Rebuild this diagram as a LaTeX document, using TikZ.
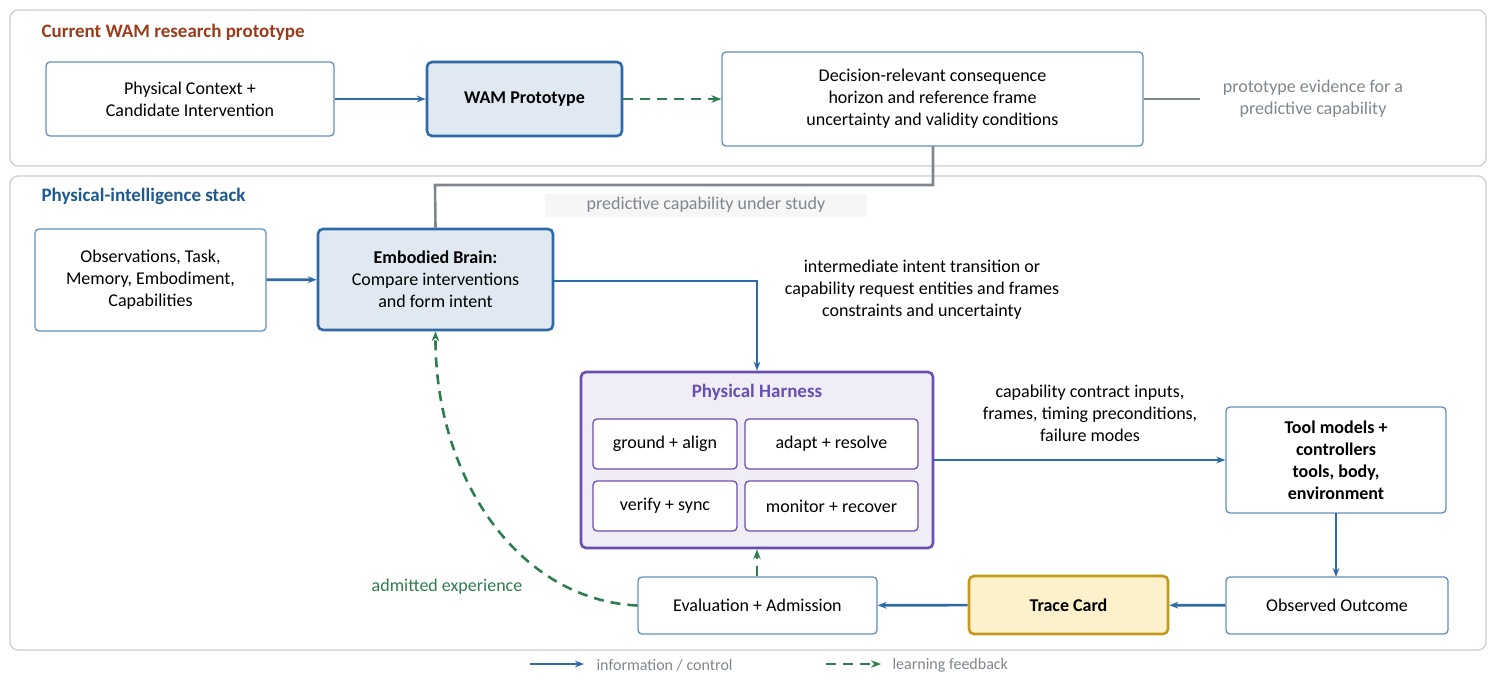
\documentclass[tikz,border=0pt]{standalone}
\usepackage{fontspec}
\setmainfont{Carlito}
\usetikzlibrary{arrows.meta}
\definecolor{cblue}{HTML}{2E6AA8}
\definecolor{cgreen}{HTML}{2E7D4F}
\definecolor{cbrown}{HTML}{9A3B1A}
\definecolor{ctitle}{HTML}{1F5A8E}
\definecolor{cpurp}{HTML}{6A4FB0}
\definecolor{cgray}{HTML}{7F868E}
\definecolor{cpanel}{HTML}{C9CED4}
\definecolor{cgold}{HTML}{C49A1A}
\definecolor{ccream}{HTML}{FDF1CC}
\begin{document}
\begin{tikzpicture}[x=1pt,y=-1pt,
 txt/.style={font=\fontsize{18}{22}\selectfont,align=center},
 box/.style={draw=cblue!75,line width=1.3pt,rounded corners=4pt,fill=white},
 hbox/.style={draw=cblue,line width=2.6pt,rounded corners=5pt,fill=cblue!15},
 sub/.style={draw=cpurp,line width=1.3pt,rounded corners=4pt,fill=white},
 arr/.style={cblue,line width=2.6pt,-{Stealth[length=9pt]}},
 fb/.style={cgreen,line width=2.6pt,dash pattern=on 10pt off 7pt,-{Stealth[length=10pt]}},
 gl/.style={cgray,line width=2.6pt}]
\useasboundingbox (0,0) rectangle (1496,693);
\draw[cpanel,line width=1.3pt,rounded corners=8pt] (10,10) rectangle (1486,166);
\draw[cpanel,line width=1.3pt,rounded corners=8pt] (10,176) rectangle (1486,650);
\node[anchor=west,font=\fontsize{19}{23}\selectfont\bfseries,text=cbrown] (t1) at (38,32) {Current WAM research prototype};
\node[anchor=west,font=\fontsize{19}{23}\selectfont\bfseries,text=ctitle] (t2) at (38,196) {Physical-intelligence stack};
% row 1
\node[box,txt,minimum width=288,minimum height=74] (pc) at (190,99) {Physical Context +\\Candidate Intervention};
\node[hbox,txt,font=\fontsize{18}{22}\selectfont\bfseries,minimum width=195,minimum height=74] (wam) at (524.5,99) {WAM Prototype};
\node[box,txt,minimum width=421,minimum height=94] (dec) at (932.5,99) {Decision-relevant consequence\\horizon and reference frame\\uncertainty and validity conditions};
\coordinate (ge) at (1200,99);
\node[txt,text=cgray] (pe) at (1313,99) {prototype evidence for a\\predictive capability};
\draw[arr] (pc) -- (wam);
\draw[fb] (wam) -- (dec);
\draw[gl] (dec.east) -- (ge);
% row 2
\node[box,txt,minimum width=231,minimum height=102] (obs) at (150.5,280) {Observations, Task,\\Memory, Embodiment,\\Capabilities};
\node[hbox,txt,minimum width=235,minimum height=101] (brain) at (435.5,279.5) {\textbf{Embodied Brain:}\\Compare interventions\\and form intent};
\draw[gl] (933,146) -- (933,185) -- (435,185) -- (brain.north);
\node[txt,fill=gray!7,text=cgray,minimum width=322,minimum height=23,inner sep=0] (pcs) at (706,205) {predictive capability under study};
\draw[arr] (obs) -- (brain);
\node[draw=cpurp,line width=2.6pt,rounded corners=5pt,fill=cpurp!10,minimum width=352,minimum height=176] (h) at (757,460) {};
\node[font=\fontsize{19}{23}\selectfont\bfseries,text=cpurp] (ht) at (757,392) {Physical Harness};
\node[sub,txt,minimum width=144,minimum height=50] (s1) at (665,444) {ground + align};
\node[sub,txt,minimum width=173,minimum height=50] (s2) at (831.5,444) {adapt + resolve};
\node[sub,txt,minimum width=144,minimum height=50] (s3) at (665,506) {verify + sync};
\node[sub,txt,minimum width=173,minimum height=50] (s4) at (831.5,506) {monitor + recover};
\draw[arr] (brain.east |- 0,281) -- (757,281) -- (h.north);
\node[txt] (l1) at (922,290) {intermediate intent transition or\\capability request entities and frames\\constraints and uncertainty};
\node[box,txt,font=\fontsize{18}{22}\selectfont\bfseries,minimum width=220,minimum height=106] (tool) at (1336,460) {Tool models +\\controllers\\tools, body,\\environment};
\draw[arr] (h.east) -- (tool.west);
\node[txt] (l2) at (1090,413) {capability contract inputs,\\frames, timing preconditions,\\failure modes};
\node[box,txt,minimum width=222,minimum height=57] (oo) at (1337,605.5) {Observed Outcome};
\node[draw=cgold,line width=2.6pt,rounded corners=5pt,fill=ccream,txt,font=\fontsize{18}{22}\selectfont\bfseries,minimum width=199,minimum height=58] (tc) at (1068.5,605) {Trace Card};
\node[box,txt,minimum width=239,minimum height=57] (ev) at (757.5,605.5) {Evaluation + Admission};
\draw[arr] (1336,513) -- (1336,577);
\draw[arr] (oo) -- (tc);
\draw[arr] (tc) -- (ev);
\draw[fb] (ev.north -| h.south) -- (h.south);
\draw[fb] (ev.west) .. controls (520,600) and (435,480) .. (brain.south);
\node[txt,text=cgreen] (ae) at (447,587) {admitted experience};
% legend
\coordinate (a1) at (530,664); \coordinate (a2) at (584,664);
\coordinate (b1) at (826,664); \coordinate (b2) at (881,664);
\draw[arr] (a1) -- (a2);
\draw[fb] (b1) -- (b2);
\node[anchor=west,font=\fontsize{16}{19}\selectfont,text=cgray] (lg1) at (593,665) {information / control};
\node[anchor=west,font=\fontsize{16}{19}\selectfont,text=cgray] (lg2) at (889,665) {learning feedback};
\end{tikzpicture}
\end{document}
